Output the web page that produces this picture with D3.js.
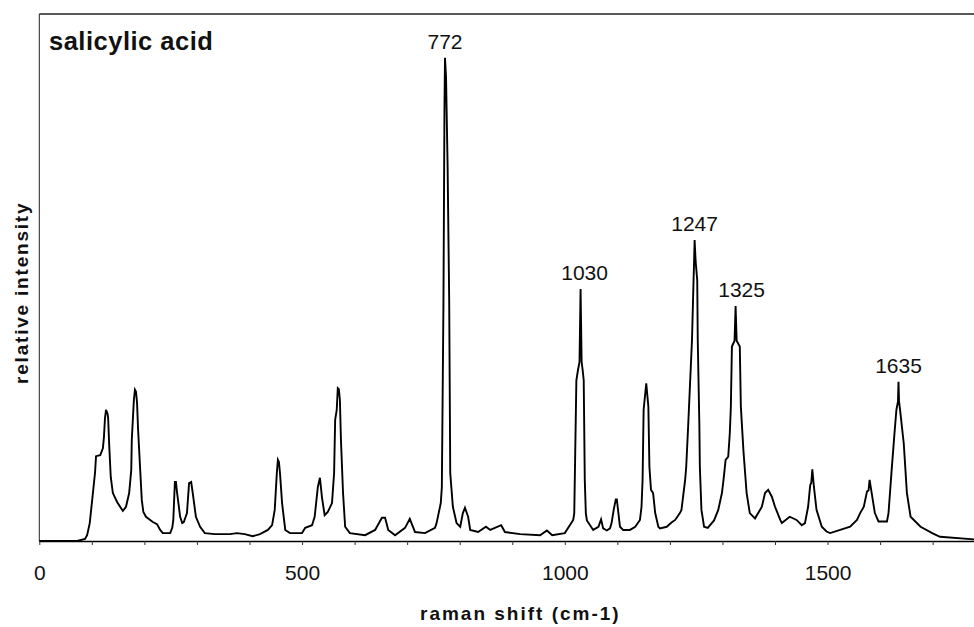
<!DOCTYPE html>
<html>
<head>
<meta charset="utf-8">
<script src="https://cdn.jsdelivr.net/npm/d3@7"></script>
<style>
  html, body { margin: 0; padding: 0; background: #fff; }
  svg { display: block; font-family: "Liberation Sans", Arial, Helvetica, sans-serif; }
</style>
</head>
<body>
<svg id="chart" width="974" height="627"></svg>
<script>
// Raman spectrum of salicylic acid: shift (cm-1) and relative intensity
const shift = [
  0, 72, 87, 91, 96, 100, 106, 108, 116, 121, 123, 125, 127, 130, 131, 133, 136, 140, 148, 155,
  159, 165, 171, 175, 176, 180, 182, 184, 186, 188, 192, 195, 198, 203, 211, 216, 224, 230, 235, 249,
  253, 255, 258, 260, 262, 268, 272, 275, 281, 285, 289, 292, 298, 306, 315, 334, 363, 376, 391, 406,
  420, 435, 443, 448, 452, 454, 456, 458, 462, 468, 477, 500, 506, 519, 524, 530, 534, 538, 543, 549,
  557, 561, 563, 566, 568, 570, 572, 574, 578, 582, 591, 620, 639, 652, 658, 664, 677, 696, 705, 715,
  734, 753, 756, 764, 766, 769, 771, 772, 774, 777, 780, 782, 787, 794, 801, 806, 810, 816, 820, 835,
  850, 858, 879, 886, 915, 953, 966, 976, 1000, 1016, 1018, 1019, 1022, 1025, 1028, 1030, 1032, 1034, 1036, 1038,
  1040, 1042, 1054, 1064, 1069, 1073, 1080, 1086, 1089, 1093, 1097, 1099, 1102, 1105, 1111, 1124, 1134, 1143, 1146, 1148,
  1150, 1155, 1157, 1159, 1161, 1164, 1168, 1172, 1178, 1181, 1194, 1203, 1210, 1219, 1222, 1229, 1231, 1235, 1242, 1245,
  1246, 1247, 1249, 1252, 1253, 1256, 1257, 1260, 1265, 1272, 1284, 1292, 1299, 1302, 1306, 1311, 1314, 1316, 1318, 1323,
  1325, 1327, 1333, 1335, 1340, 1346, 1352, 1362, 1375, 1381, 1387, 1394, 1400, 1410, 1413, 1428, 1441, 1451, 1457, 1463,
  1467, 1469, 1471, 1474, 1479, 1489, 1498, 1505, 1524, 1543, 1556, 1562, 1569, 1575, 1578, 1580, 1584, 1590, 1597, 1606,
  1613, 1616, 1622, 1627, 1631, 1634, 1635, 1636, 1638, 1645, 1651, 1658, 1677, 1701, 1714, 1780
];
const intensity = [
  0, 0, 0.4, 1.1, 3.4, 7.2, 12.9, 16.1, 16.3, 17.6, 19.7, 23.3, 24.9, 24.1, 23.3, 18.2, 12.1, 9.1, 7.4, 6.3,
  5.7, 6.5, 9.1, 13.5, 19.2, 26.8, 28.7, 28.3, 26.2, 21.1, 13.5, 7.8, 5.5, 4.6, 4.0, 3.6, 3.2, 2.1, 1.5, 1.5,
  2.5, 4.0, 11.2, 11.2, 9.3, 4.6, 3.4, 3.6, 5.3, 11.0, 11.2, 9.1, 4.6, 2.7, 1.5, 1.3, 1.3, 1.5, 1.3, 0.9,
  1.3, 2.1, 3.0, 5.9, 12.9, 15.4, 15.0, 12.9, 7.2, 2.1, 1.5, 1.5, 2.5, 3.0, 4.6, 10.2, 12.0, 8.2, 4.9, 5.5,
  7.2, 12.9, 23.0, 24.9, 29.0, 28.8, 26.8, 19.2, 9.1, 2.7, 1.5, 1.1, 2.1, 4.4, 4.4, 2.1, 1.1, 2.5, 4.2, 1.7,
  1.5, 2.5, 3.4, 7.2, 10.2, 44.4, 82.0, 91.7, 88.0, 71.0, 45.7, 12.9, 6.5, 3.4, 2.7, 5.3, 6.3, 4.6, 2.1, 1.7,
  2.7, 2.1, 3.0, 1.7, 1.3, 1.1, 2.0, 1.1, 1.5, 4.0, 5.3, 11.6, 30.5, 32.4, 34.0, 47.8, 34.0, 32.4, 30.5, 11.6,
  5.3, 3.9, 2.1, 2.7, 4.1, 2.4, 2.0, 2.4, 3.4, 5.9, 7.9, 7.9, 5.3, 2.7, 2.1, 2.1, 2.7, 4.0, 6.5, 11.6,
  24.9, 29.9, 27.7, 25.5, 14.1, 9.7, 9.1, 5.3, 2.7, 2.4, 2.7, 3.5, 4.0, 5.3, 5.9, 11.6, 14.0, 22.4, 38.1, 49.5,
  53.0, 57.1, 53.0, 49.5, 38.1, 22.4, 14.0, 5.9, 2.7, 2.5, 3.9, 5.9, 9.1, 11.6, 15.4, 16.0, 20.5, 25.5, 36.9, 38.0,
  44.6, 38.0, 36.9, 25.5, 17.0, 9.1, 5.3, 4.3, 6.5, 9.1, 9.7, 8.4, 6.5, 4.0, 3.4, 4.6, 4.0, 3.0, 3.4, 6.5,
  10.6, 11.0, 13.6, 10.3, 5.9, 2.7, 1.8, 1.5, 2.1, 2.7, 4.0, 5.3, 6.5, 9.4, 9.6, 11.6, 9.1, 5.3, 3.7, 3.7,
  3.7, 5.3, 13.5, 20.0, 24.9, 26.5, 30.2, 26.5, 24.9, 18.5, 9.1, 4.6, 2.7, 1.4, 0.8, 0.3
];

// Annotated band positions (cm-1)
const peakLabels = [772, 1030, 1247, 1325, 1635];

// Axis ticks
const tickValues = [0, 100, 200, 300, 400, 500, 600, 700, 800, 900, 1000, 1100, 1200, 1300, 1400, 1500, 1600, 1700];
const labelledTicks = [0, 500, 1000, 1500];

const chartTitle = "salicylic acid";
const xTitle = "raman shift (cm-1)";
const yTitle = "relative intensity";

(function draw() {
  const svg = d3.select("#chart");

  const plotLeft = 39.3, plotTop = 14, plotBottom = 541, plotRight = 974.7;
  const x = d3.scaleLinear().domain([0, 1780]).range([plotLeft, plotRight]);
  const y = d3.scaleLinear().domain([0, 100]).range([plotBottom, plotTop]);

  const points = shift.map((s, i) => ({ s, v: intensity[i] }));

  // Frame: top edge and left edge
  svg.append("line")
    .attr("x1", plotLeft).attr("x2", 974).attr("y1", plotTop).attr("y2", plotTop)
    .attr("stroke", "#222").attr("stroke-width", 1.3);
  svg.append("line")
    .attr("x1", plotLeft).attr("x2", plotLeft).attr("y1", plotTop).attr("y2", plotBottom)
    .attr("stroke", "#222").attr("stroke-width", 1);

  // Bottom axis
  const xAxis = d3.axisBottom(x)
    .tickValues(tickValues)
    .tickSize(4)
    .tickSizeOuter(0)
    .tickPadding(20)
    .tickFormat(d => labelledTicks.includes(d) ? String(d) : "");

  const gx = svg.append("g")
    .attr("transform", `translate(0,${plotBottom})`)
    .call(xAxis);
  gx.select(".domain").attr("stroke", "#000").attr("stroke-width", 1.5);
  gx.selectAll(".tick line").attr("stroke", "#333").attr("stroke-width", 1);
  gx.selectAll(".tick text")
    .attr("fill", "#111")
    .style("font-size", "21px")
    .style("font-family", "'Liberation Sans', Arial, sans-serif");

  // Spectrum trace
  const line = d3.line()
    .x(d => x(d.s))
    .y(d => y(d.v))
    .curve(d3.curveLinear);

  svg.append("path")
    .datum(points)
    .attr("d", line)
    .attr("fill", "none")
    .attr("stroke", "#000")
    .attr("stroke-width", 1.9)
    .attr("stroke-linejoin", "miter");

  // Band labels above the peaks
  const labelNudge = { 1030: 4, 1325: 6 };
  svg.append("g").selectAll("text")
    .data(peakLabels)
    .join("text")
    .attr("x", d => x(d) + (labelNudge[d] || 0))
    .attr("y", d => y(intensity[shift.indexOf(d)]) - 9)
    .attr("text-anchor", "middle")
    .attr("fill", "#111")
    .style("font-size", "21px")
    .text(d => d);

  // Chart title
  svg.append("text")
    .attr("x", 49)
    .attr("y", 50)
    .attr("fill", "#111")
    .style("font-size", "25.5px")
    .style("font-weight", "bold")
    .style("letter-spacing", "0.5px")
    .text(chartTitle);

  // Axis titles
  svg.append("text")
    .attr("x", 420)
    .attr("y", 620)
    .attr("fill", "#111")
    .style("font-size", "19px")
    .style("font-weight", "bold")
    .style("letter-spacing", "2px")
    .text(xTitle);

  svg.append("text")
    .attr("transform", "translate(28,384) rotate(-90)")
    .attr("fill", "#111")
    .style("font-size", "19px")
    .style("font-weight", "bold")
    .style("letter-spacing", "1.8px")
    .text(yTitle);
})();
</script>
</body>
</html>
